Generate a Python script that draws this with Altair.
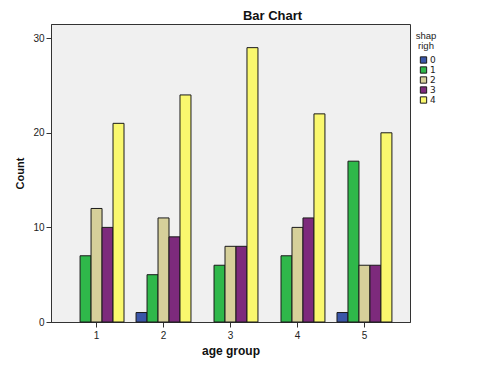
import altair as alt
import pandas as pd

age_groups = ["1", "2", "3", "4", "5"]
shap_levels = ["0", "1", "2", "3", "4"]
counts_0 = [0, 1, 0, 0, 1]
counts_1 = [7, 5, 6, 7, 17]
counts_2 = [12, 11, 8, 10, 6]
counts_3 = [10, 9, 8, 11, 6]
counts_4 = [21, 24, 29, 22, 20]
colors = ["#3A56A8", "#2FB84A", "#D6D09A", "#7D2A7C", "#FAF86E"]

rows = []
for lvl, series in zip(shap_levels, [counts_0, counts_1, counts_2, counts_3, counts_4]):
    for g, v in zip(age_groups, series):
        if v > 0:
            rows.append({"age group": g, "shap righ": lvl, "Count": v})
df = pd.DataFrame(rows)

font = "Liberation Sans"
lfont = "DejaVu Sans"

chart = alt.Chart(df).mark_bar(stroke="#1a1a1a", strokeWidth=1).encode(
    x=alt.X("age group:N",
            scale=alt.Scale(domain=age_groups, paddingInner=0.18, paddingOuter=0.27),
            axis=alt.Axis(title="age group", labelAngle=0, labelFont=font, labelFontSize=10,
                          labelColor="#222", titleFont=font, titleFontSize=12,
                          titleFontWeight="bold", titleColor="#111", titlePadding=5,
                          tickSize=5, tickColor="#333", domainColor="#333", labelPadding=3)),
    xOffset=alt.XOffset("shap righ:N", scale=alt.Scale(domain=shap_levels, paddingInner=0, paddingOuter=0)),
    y=alt.Y("Count:Q",
            scale=alt.Scale(domain=[0, 31.5], nice=False),
            axis=alt.Axis(title="Count", values=[0, 10, 20, 30], grid=False, labelFont=font,
                          labelFontSize=10, labelColor="#222", titleFont=font, titleFontSize=11,
                          titleFontWeight="bold", titleColor="#111", titlePadding=7,
                          tickSize=5, tickColor="#333", domainColor="#333", labelPadding=2)),
    color=alt.Color("shap righ:N",
                    scale=alt.Scale(domain=shap_levels, range=colors),
                    legend=alt.Legend(title=["shap", "righ"], orient="none", legendX=365, legendY=7,
                                      titleFont=font, titleFontSize=9.5, titleFontWeight="normal",
                                      titleColor="#222", titleAlign="center", titleAnchor="middle",
                                      titleLineHeight=10,
                                      labelFont=lfont, labelFontSize=9, labelColor="#222",
                                      symbolType="square", symbolSize=40, symbolStrokeColor="#1a1a1a",
                                      symbolStrokeWidth=1, symbolOpacity=1, rowPadding=-1,
                                      symbolOffset=3,
                                      labelOffset=2, titlePadding=5, padding=0, offset=0)),
).properties(
    width=359,
    height=298,
    background="white",
    title=alt.TitleParams("Bar Chart", font=font, fontSize=13, fontWeight="bold",
                          color="#111", anchor="middle", dx=42, offset=1),
    autosize=alt.AutoSizeParams(type="none"),
    padding={"left": 43, "top": 16, "right": 59, "bottom": 40},
).configure_view(
    fill="#F0F0F0", stroke="#333", strokeWidth=1
)

chart.save("out.html", embed_options={"renderer": "svg", "actions": False})
